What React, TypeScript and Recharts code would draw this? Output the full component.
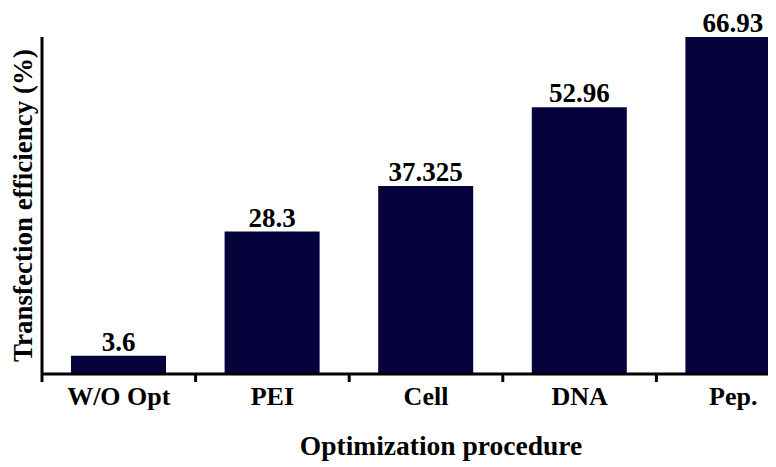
import { Bar, BarChart, LabelList, XAxis, YAxis } from "recharts";

const categories = ["W/O Opt", "PEI", "Cell", "DNA", "Pep."];
const efficiency = [3.6, 28.3, 37.325, 52.96, 66.93];

const data = categories.map((name, i) => ({ name, value: efficiency[i] }));

const FONT = "Liberation Serif, Tinos, DejaVu Serif, serif";
const BAR_COLOR = "#05023c";
const textStyle = { fontFamily: FONT, fontWeight: 700 };

// plot geometry (svg coords)
const PLOT_LEFT = 34;
const PLOT_W = 768;
const PLOT_TOP = 29;
const PLOT_BOTTOM = 366;
const BAND = PLOT_W / categories.length;

function XTick(props: any) {
  const { x, y, payload } = props;
  const half = payload?.offset ?? BAND / 2;
  return (
    <g>
      <line x1={x - half} x2={x - half} y1={y} y2={y + 8} stroke="#000" strokeWidth={3} />
      <text x={x} y={y + 31} textAnchor="middle" style={textStyle} fontSize={26} fill="#000">
        {payload.value}
      </text>
    </g>
  );
}

function YTitle() {
  const cx = 15;
  const cy = (PLOT_TOP + PLOT_BOTTOM) / 2;
  return (
    <text
      x={cx}
      y={cy}
      transform={`rotate(-90 ${cx} ${cy})`}
      textAnchor="middle"
      dominantBaseline="central"
      style={textStyle}
      fontSize={27}
      fill="#000"
    >
      Transfection efficiency (%)
    </text>
  );
}

function XTitle() {
  const cx = PLOT_LEFT + PLOT_W / 2 + 15;
  return (
    <text x={cx} y={447} textAnchor="middle" style={textStyle} fontSize={27.5} fill="#000">
      Optimization procedure
    </text>
  );
}

export default function App() {
  return (
    <div style={{ width: 762, height: 459, overflow: "hidden", fontFamily: FONT }}>
      <BarChart
        width={PLOT_LEFT + PLOT_W + 4}
        height={459}
        data={data}
        margin={{ top: PLOT_TOP, right: 4, bottom: 0, left: 0 }}
        barSize={95}
      >
        <XAxis
          dataKey="name"
          height={459 - PLOT_BOTTOM}
          axisLine={{ stroke: "#000", strokeWidth: 3 }}
          tickLine={false}
          tickSize={0}
          tickMargin={0}
          tick={<XTick />}
          interval={0}
          label={<XTitle />}
        />
        <YAxis
          width={PLOT_LEFT}
          domain={[0, "dataMax"]}
          tick={false}
          tickLine={false}
          axisLine={{ stroke: "#000", strokeWidth: 3 }}
          label={<YTitle />}
        />
        <Bar dataKey="value" fill={BAR_COLOR} isAnimationActive={false}>
          <LabelList
            dataKey="value"
            position="top"
            offset={5}
            style={textStyle}
            fontSize={27}
            fill="#000"
          />
        </Bar>
      </BarChart>
    </div>
  );
}
